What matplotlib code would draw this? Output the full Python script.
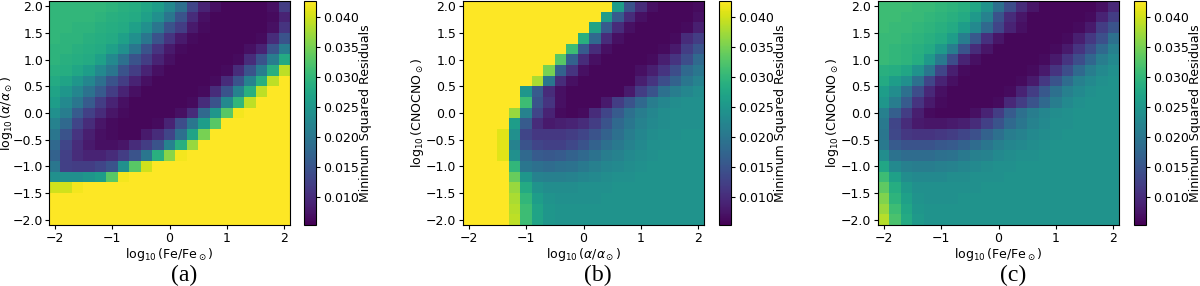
import numpy as np
import matplotlib
matplotlib.use("Agg")
import matplotlib.pyplot as plt

# cell centres on both axes (log10 of the scaling factor)
grid = [-2.0, -1.8, -1.6, -1.4, -1.2, -1.0, -0.8, -0.6, -0.4, -0.2, 0.0,
        0.2, 0.4, 0.6, 0.8, 1.0, 1.2, 1.4, 1.6, 1.8, 2.0]

# minimum squared residuals, in units of 1e-3
# rows listed from top (y = 2.0) to bottom (y = -2.0), columns x = -2.0 ... 2.0
Y = 45  # saturated cells (above colour scale)

res_fe_alpha = [
    [30, 30, 30, 30, 30, 29.5, 29, 28.5, 27.5, 26, 23, 19, 13, 9, 7, 6, 6, 6, 6, 7, 12],
    [30, 30, 30, 30, 29.5, 29, 28.5, 28, 26.5, 24, 20, 15, 10, 7, 6, 6, 6, 6, 6, 6.5, 9],
    [30, 30, 29.5, 29.5, 29, 28.5, 28, 26.5, 24, 20, 15, 12, 8, 6.5, 6, 6, 6, 6, 6, 7, 11],
    [30, 29.5, 29.5, 29, 28.5, 28, 26.5, 24, 20, 15, 11, 8, 6.5, 6, 6, 6, 6, 6, 6.5, 10, 15],
    [29.5, 29.5, 29, 28.5, 28, 26.5, 24, 20, 15, 11, 8, 6.5, 6, 6, 6, 6, 6, 7, 9, 15, 21],
    [29.5, 29, 28.5, 28, 26.5, 23, 19, 15, 12, 9, 7, 6, 6, 6, 6, 6, 6.5, 10, 15, 21, 28],
    [29, 28.5, 27.5, 26, 23, 20, 15, 12, 9, 7, 6, 6, 6, 6, 6, 6.5, 10, 15, 21, 29, 39],
    [28, 27, 25, 22.5, 19, 15, 12, 9, 7, 6, 6, 6, 6, 6, 6.5, 10, 15, 22, 29, 39, Y],
    [27, 25, 22.5, 19.5, 16, 12, 9, 7, 6, 6, 6, 6, 6, 6.5, 10, 15, 22, 29, 39, Y, Y],
    [26, 23, 20, 16, 12, 9, 7, 6, 6, 6, 6, 6, 6.5, 10, 15, 23, 30, 39, Y, Y, Y],
    [24, 21, 16, 12.5, 10, 7.5, 6.5, 6, 6, 6, 6, 7, 10, 18, 25, 33, 42, Y, Y, Y, Y],
    [22, 18, 13, 10, 7.5, 6.5, 6, 6, 6, 6.5, 9, 14, 20, 26, 33, Y, Y, Y, Y, Y, Y],
    [20, 15, 11, 8.5, 7, 6.5, 6, 6, 8, 10, 13, 19, 27, 35, Y, Y, Y, Y, Y, Y, Y],
    [18, 13, 10, 8, 7, 7, 7.5, 10, 12, 15, 22, 29, 37, Y, Y, Y, Y, Y, Y, Y, Y],
    [17, 12.5, 10, 9, 9, 10, 12, 15, 20, 29, 36, 42, Y, Y, Y, Y, Y, Y, Y, Y, Y],
    [20, 12.5, 12, 12, 13, 15, 24, 33, 40, Y, Y, Y, Y, Y, Y, Y, Y, Y, Y, Y, Y],
    [24, 24, 24, 25, 26, 33, 42, Y, Y, Y, Y, Y, Y, Y, Y, Y, Y, Y, Y, Y, Y],
    [40, 40, 42, Y, Y, Y, Y, Y, Y, Y, Y, Y, Y, Y, Y, Y, Y, Y, Y, Y, Y],
    [Y, Y, Y, Y, Y, Y, Y, Y, Y, Y, Y, Y, Y, Y, Y, Y, Y, Y, Y, Y, Y],
    [Y, Y, Y, Y, Y, Y, Y, Y, Y, Y, Y, Y, Y, Y, Y, Y, Y, Y, Y, Y, Y],
    [Y, Y, Y, Y, Y, Y, Y, Y, Y, Y, Y, Y, Y, Y, Y, Y, Y, Y, Y, Y, Y],
]

res_alpha_cno = [
    [Y, Y, Y, Y, Y, Y, Y, Y, Y, Y, Y, Y, Y, 26, 15, 10, 7, 6, 6, 6, 6.5],
    [Y, Y, Y, Y, Y, Y, Y, Y, Y, Y, Y, Y, 26, 16, 10, 7, 6, 6, 6, 6, 7],
    [Y, Y, Y, Y, Y, Y, Y, Y, Y, Y, Y, 27, 16, 10, 7, 6, 6, 6, 6, 6.5, 8.5],
    [Y, Y, Y, Y, Y, Y, Y, Y, Y, Y, 29, 18, 10, 7, 6, 6, 6, 6, 6.5, 10, 12],
    [Y, Y, Y, Y, Y, Y, Y, Y, Y, 31, 16, 10, 7, 6, 6, 6, 6, 6.5, 8, 12, 15],
    [Y, Y, Y, Y, Y, Y, Y, Y, 33, 17, 10, 7, 6, 6, 6, 6, 6.5, 8.5, 11, 14, 18],
    [Y, Y, Y, Y, Y, Y, Y, 35, 17, 11, 7, 6, 6, 6, 6, 7, 8.5, 11, 14, 18, 20],
    [Y, Y, Y, Y, Y, Y, 38, 20, 10, 7, 6, 6, 6, 6, 6, 8.5, 11, 14, 17, 20, 22],
    [Y, Y, Y, Y, Y, 25, 16, 10, 7, 6, 6, 6, 6, 6, 8, 12, 15, 19, 21, 22.5, 23.5],
    [Y, Y, Y, Y, Y, 31, 15, 11, 7, 6, 6, 6, 8, 12, 15, 18, 21, 22.5, 23.5, 24, 24],
    [Y, Y, Y, Y, 37, 22, 13, 9, 6.5, 6, 6.5, 10, 13, 16, 19, 21, 22.5, 23.5, 24, 24, 24],
    [Y, Y, Y, Y, 26, 16, 10, 8, 8.5, 9, 10, 12, 15, 18, 20, 22, 23, 23.5, 24, 24, 24],
    [Y, Y, Y, 41, 24, 13, 11.5, 11.5, 11.5, 12, 13, 15, 17, 19, 21, 22.5, 23.5, 24, 24, 24.5, 24.5],
    [Y, Y, Y, 41, 22, 15, 13, 12.5, 12.5, 13.5, 15, 17, 19, 20.5, 22, 23, 24, 24, 24.5, 24.5, 24.5],
    [Y, Y, Y, 41, 24, 18, 16, 15.5, 16, 17, 18, 19.5, 21, 22, 23, 23.5, 24, 24.5, 24.5, 24.5, 24.5],
    [Y, Y, Y, Y, 30, 20, 19, 18.5, 19, 19.5, 20.5, 21.5, 22.5, 23, 23.5, 24, 24.5, 24.5, 24.5, 24.5, 24.5],
    [Y, Y, Y, Y, 34, 25, 22, 21.5, 21.5, 22, 22.5, 23, 23.5, 24, 24, 24.5, 24.5, 24.5, 24.5, 24.5, 24.5],
    [Y, Y, Y, Y, 37, 28, 24.5, 23.5, 23.5, 23.5, 24, 24, 24, 24.5, 24.5, 24.5, 24.5, 24.5, 24.5, 24.5, 24.5],
    [Y, Y, Y, Y, 38, 30, 26, 24.5, 24, 24, 24, 24, 24.5, 24.5, 24.5, 24.5, 24.5, 24.5, 24.5, 24.5, 24.5],
    [Y, Y, Y, Y, 38.5, 31, 27, 25, 24.5, 24.5, 24.5, 24.5, 24.5, 24.5, 24.5, 24.5, 24.5, 24.5, 24.5, 24.5, 24.5],
    [Y, Y, Y, Y, 39, 31, 27, 25, 24.5, 24.5, 24.5, 24.5, 24.5, 24.5, 24.5, 24.5, 24.5, 24.5, 24.5, 24.5, 24.5],
]

res_fe_cno = [
    [31, 31, 31, 30.5, 30.5, 30, 29.5, 29, 27.5, 24.5, 19, 14, 10, 7.5, 6, 6, 6, 6, 6, 7, 9.5],
    [31, 31, 30.5, 30.5, 30, 29.5, 29, 28, 25.5, 22, 15, 10, 7.5, 6, 6, 6, 6, 6, 6.5, 9, 12],
    [31, 30.5, 30.5, 30, 29.5, 29, 28, 26, 23, 18, 13, 9, 7, 6, 6, 6, 6, 6.5, 8, 12, 15],
    [30.5, 30.5, 30, 29.5, 29, 28, 26, 21, 15.5, 10.5, 7.5, 6, 6, 6, 6, 6, 6.5, 8.5, 11.5, 14.5, 19],
    [30.5, 30, 29.5, 29, 28, 25.5, 21, 15, 10, 7.5, 6, 6, 6, 6, 6, 6.5, 8, 11, 14, 18, 21.5],
    [30.5, 30, 29.5, 28.5, 25.5, 20.5, 14, 9, 7, 6, 6, 6, 6, 6, 6.5, 8, 11, 14, 17.5, 21, 23],
    [29, 28.5, 27.5, 24.5, 20, 13, 8.5, 6.5, 6, 6, 6, 6, 6, 6.5, 8, 11, 14, 18, 21, 23, 24],
    [28, 26, 24, 19, 13, 9, 7, 6, 6, 6, 6, 6, 6.5, 8, 11.5, 15, 18.5, 21.5, 23, 24, 24.5],
    [26, 23.5, 19, 14, 9.5, 7, 6, 6, 6, 6, 6, 6.5, 9, 12, 15.5, 19, 21.5, 23, 24, 24.5, 24.5],
    [25, 21, 16, 11, 8, 6.5, 6, 6, 6, 6, 6.5, 9.5, 12, 15, 18, 21, 23, 24, 24.5, 24.5, 24.5],
    [21.5, 16.5, 12, 8.5, 6.5, 6, 6, 6, 7, 9, 12, 16, 19, 21, 22.5, 23.5, 24, 24.5, 24.5, 24.5, 24.5],
    [20.5, 13, 10, 8, 7.5, 7.5, 8, 8.5, 10, 12.5, 15, 18, 20, 22, 23, 24, 24, 24.5, 24.5, 24.5, 24.5],
    [20, 13.5, 11.5, 11, 11, 11.5, 12, 13, 14.5, 17, 19, 21, 22, 23, 23.5, 24, 24.5, 24.5, 24.5, 24.5, 24.5],
    [20.5, 16, 15, 15, 15, 15.5, 16, 17, 18.5, 20, 21.5, 22.5, 23, 23.5, 24, 24.5, 24.5, 24.5, 24.5, 24.5, 24.5],
    [23.5, 19.5, 18.5, 18.5, 18.5, 19, 19.5, 20.5, 21.5, 22, 23, 23.5, 24, 24, 24.5, 24.5, 24.5, 24.5, 24.5, 24.5, 24.5],
    [27.5, 23, 21.5, 21, 21, 21.5, 22, 22.5, 23, 23.5, 24, 24, 24.5, 24.5, 24.5, 24.5, 24.5, 24.5, 24.5, 24.5, 24.5],
    [31, 26.5, 23.5, 23, 23, 23, 23.5, 23.5, 24, 24, 24, 24.5, 24.5, 24.5, 24.5, 24.5, 24.5, 24.5, 24.5, 24.5, 24.5],
    [33.5, 28.5, 25.5, 24, 24, 24, 24, 24, 24, 24.5, 24.5, 24.5, 24.5, 24.5, 24.5, 24.5, 24.5, 24.5, 24.5, 24.5, 24.5],
    [35.5, 29.5, 26.5, 24.5, 24, 24, 24, 24.5, 24.5, 24.5, 24.5, 24.5, 24.5, 24.5, 24.5, 24.5, 24.5, 24.5, 24.5, 24.5, 24.5],
    [37, 31, 27.5, 25, 24.5, 24.5, 24.5, 24.5, 24.5, 24.5, 24.5, 24.5, 24.5, 24.5, 24.5, 24.5, 24.5, 24.5, 24.5, 24.5, 24.5],
    [38.5, 32, 28, 25.5, 24.5, 24.5, 24.5, 24.5, 24.5, 24.5, 24.5, 24.5, 24.5, 24.5, 24.5, 24.5, 24.5, 24.5, 24.5, 24.5, 24.5],
]

xlabels = [r'$\log_{10}$(Fe/Fe$_\odot$)', r'$\log_{10}$($\alpha/\alpha_\odot$)', r'$\log_{10}$(Fe/Fe$_\odot$)']
ylabels = [r'$\log_{10}$($\alpha/\alpha_\odot$)', r'$\log_{10}$(CNOCNO$_\odot$)', r'$\log_{10}$(CNOCNO$_\odot$)']
captions = ['(a)', '(b)', '(c)']

vmin, vmax = 0.0054, 0.0427

plt.rcParams['font.size'] = 9

fig = plt.figure(figsize=(12, 2.86), dpi=100)

W, H = 1200.0, 286.0
ax_left = [49, 463, 878]
cb_left = [304, 719, 1134]
ax_top, ax_bot = 1, 225

for k, data in enumerate([res_fe_alpha, res_alpha_cno, res_fe_cno]):
    Z = np.flipud(np.array(data)) * 1e-3
    ax = fig.add_axes([ax_left[k] / W, 1 - ax_bot / H, 241 / W, (ax_bot - ax_top) / H])
    mesh = ax.pcolormesh(grid, grid, Z, shading='nearest', cmap='viridis',
                         vmin=vmin, vmax=vmax, rasterized=True)
    ax.set_xticks([-2, -1, 0, 1, 2])
    ax.set_yticks([-2.0, -1.5, -1.0, -0.5, 0.0, 0.5, 1.0, 1.5, 2.0])
    ax.set_xlabel(xlabels[k], labelpad=1)
    ax.set_ylabel(ylabels[k], labelpad=0)
    ax.tick_params(length=3, pad=2)
    if k == 0:
        # first panel sits against the left edge, keep its label inside
        ax.tick_params(axis='y', pad=1)
        ax.yaxis.set_label_coords((15 - ax_left[0]) / 241, 0.5)

    cax = fig.add_axes([cb_left[k] / W, 1 - ax_bot / H, 12 / W, (ax_bot - ax_top) / H])
    cbar = fig.colorbar(mesh, cax=cax)
    cbar.set_ticks([0.010, 0.015, 0.020, 0.025, 0.030, 0.035, 0.040])
    cbar.ax.tick_params(length=3, pad=2)
    cbar.set_label('Minimum Squared Residuals', labelpad=0)

    xc = (ax_left[k] + 241 / 2) / W
    fig.text(xc + 0.012, 1 - 275 / H, captions[k], ha='center', va='center',
             fontsize=17, family='Liberation Serif')

fig.savefig('out.png', dpi=100)
